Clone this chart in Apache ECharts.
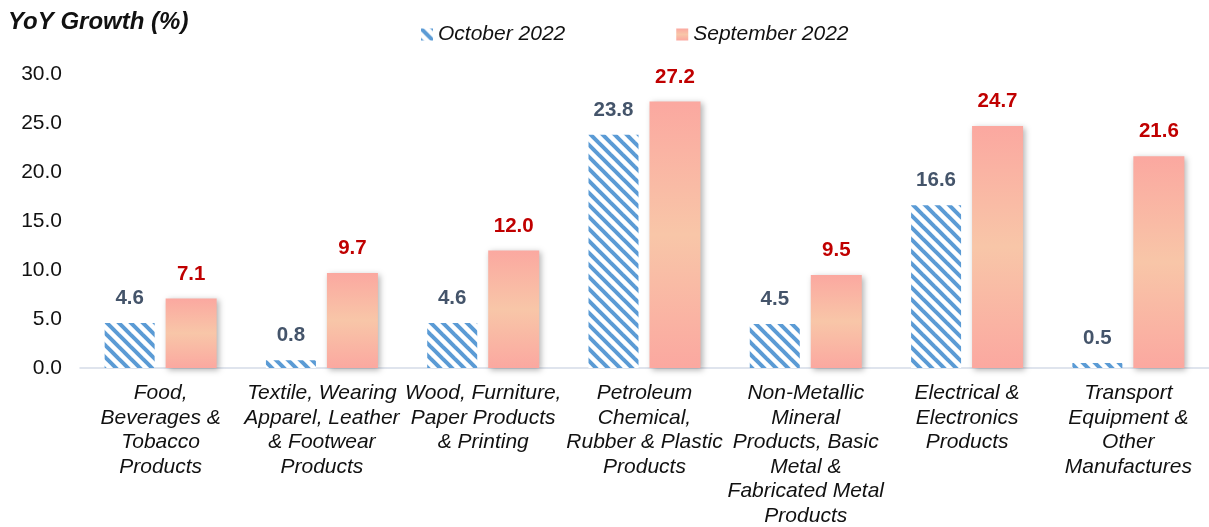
<!DOCTYPE html>
<html><head><meta charset="utf-8">
<script src="https://cdn.jsdelivr.net/npm/echarts@6/dist/echarts.min.js"></script>
<style>html,body{margin:0;padding:0;background:#fff}#c{width:1209px;height:527px}</style>
</head><body><div id="c"></div>
<script>
const categories = [
  "Food,\nBeverages &\nTobacco\nProducts",
  "Textile, Wearing\nApparel, Leather\n& Footwear\nProducts",
  "Wood, Furniture,\nPaper Products\n& Printing",
  "Petroleum\nChemical,\nRubber & Plastic\nProducts",
  "Non-Metallic\nMineral\nProducts, Basic\nMetal &\nFabricated Metal\nProducts",
  "Electrical &\nElectronics\nProducts",
  "Transport\nEquipment &\nOther\nManufactures"
];
const october2022 = [4.6, 0.8, 4.6, 23.8, 4.5, 16.6, 0.5];
const september2022 = [7.1, 9.7, 12.0, 27.2, 9.5, 24.7, 21.6];
const yTicks = { min: 0, max: 30, interval: 5 };

const FONT = '"Liberation Sans", Arial, sans-serif';

function hatch() {
  const s = 12, c = document.createElement('canvas');
  c.width = s; c.height = s;
  const g = c.getContext('2d');
  g.fillStyle = '#fff'; g.fillRect(0, 0, s, s);
  g.strokeStyle = '#5B9BD5'; g.lineWidth = 4;
  [[-s, -s, 2 * s, 2 * s], [-s, 0, s, 2 * s], [0, -s, 2 * s, s]].forEach(a => {
    g.beginPath(); g.moveTo(a[0], a[1]); g.lineTo(a[2], a[3]); g.stroke();
  });
  return c;
}

const chart = echarts.init(document.getElementById('c'));
chart.setOption({
  animation: false,
  textStyle: { fontFamily: FONT },
  title: {
    text: 'YoY Growth (%)', left: 3, top: 5,
    textStyle: { fontFamily: FONT, fontSize: 24, fontWeight: 'bold', fontStyle: 'italic', color: '#111' }
  },
  legend: {
    left: 416, top: 19, itemWidth: 12, itemHeight: 12, itemGap: 111,
    textStyle: { fontFamily: FONT, fontSize: 21, fontStyle: 'italic', color: '#111' },
    data: [{ name: 'October 2022', icon: 'rect' }, { name: 'September 2022', icon: 'rect' }]
  },
  grid: { left: 80, right: 0, top: 74, bottom: 159, containLabel: false, outerBoundsMode: 'none' },
  xAxis: {
    type: 'category', data: categories,
    axisLine: { lineStyle: { color: '#D5DCE8', width: 1.5 } },
    axisTick: { show: false },
    axisLabel: { interval: 0, margin: 13, fontFamily: FONT, fontSize: 21, fontStyle: 'italic', color: '#111', lineHeight: 24.5 }
  },
  yAxis: {
    type: 'value', min: yTicks.min, max: yTicks.max, interval: yTicks.interval,
    axisLine: { show: false }, axisTick: { show: false }, splitLine: { show: false },
    axisLabel: { margin: 18, fontFamily: FONT, fontSize: 21, color: '#111', formatter: v => v.toFixed(1) }
  },
  series: [
    {
      name: 'October 2022', type: 'bar', data: october2022,
      barWidth: 50, barGap: '22%',
      itemStyle: { color: { image: hatch(), repeat: 'repeat' } },
      label: { show: true, position: 'top', distance: 14, fontFamily: FONT, fontSize: 20.5, fontWeight: 'bold', color: '#44546A', formatter: p => p.value.toFixed(1) }
    },
    {
      name: 'September 2022', type: 'bar', data: september2022,
      barWidth: 51,
      itemStyle: {
        color: new echarts.graphic.LinearGradient(0, 0, 0, 1, [
          { offset: 0, color: '#FBA8A0' },
          { offset: 0.5, color: '#F8C6A8' },
          { offset: 1, color: '#FBA8A0' }
        ]),
        shadowColor: 'rgba(0,0,0,0.3)', shadowBlur: 6, shadowOffsetX: 2, shadowOffsetY: 2
      },
      label: { show: true, position: 'top', distance: 14, fontFamily: FONT, fontSize: 20.5, fontWeight: 'bold', color: '#C00000', formatter: p => p.value.toFixed(1) }
    }
  ]
});
</script></body></html>
